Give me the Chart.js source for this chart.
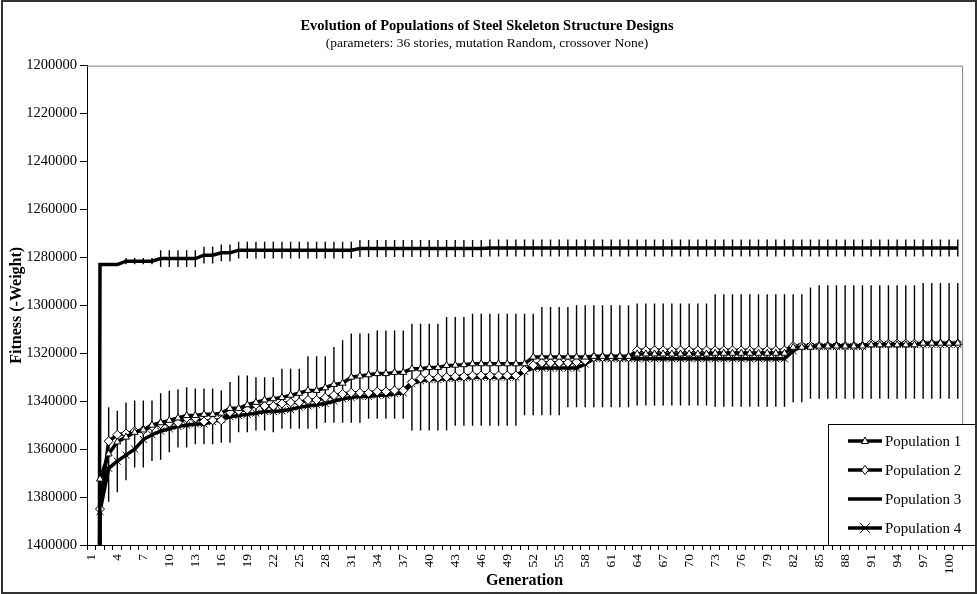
<!DOCTYPE html>
<html>
<head>
<meta charset="utf-8">
<title>Evolution of Populations of Steel Skeleton Structure Designs</title>
<script src="https://cdn.jsdelivr.net/npm/chart.js@4/dist/chart.umd.min.js"></script>
<style>
  html, body { margin: 0; padding: 0; background: #fff; }
  #wrap { width: 978px; height: 594px; }
</style>
</head>
<body>
<div id="wrap"><canvas id="chart" width="978" height="594"></canvas></div>
<script>
// generations on the x axis
const generations = [
    1, 2, 3, 4, 5, 6, 7, 8, 9, 10,
    11, 12, 13, 14, 15, 16, 17, 18, 19, 20,
    21, 22, 23, 24, 25, 26, 27, 28, 29, 30,
    31, 32, 33, 34, 35, 36, 37, 38, 39, 40,
    41, 42, 43, 44, 45, 46, 47, 48, 49, 50,
    51, 52, 53, 54, 55, 56, 57, 58, 59, 60,
    61, 62, 63, 64, 65, 66, 67, 68, 69, 70,
    71, 72, 73, 74, 75, 76, 77, 78, 79, 80,
    81, 82, 83, 84, 85, 86, 87, 88, 89, 90,
    91, 92, 93, 94, 95, 96, 97, 98, 99, 100,
    101
];

// best design weight per generation (shown as fitness = -weight)
const pop1 = [
    2100000, 1372500, 1362000, 1357000, 1355000, 1353000, 1352000, 1350000, 1349000, 1348000,
    1347000, 1346000, 1346000, 1345500, 1345500, 1345000, 1343000, 1343000, 1341500, 1340500,
    1339500, 1339000, 1338500, 1337500, 1336700, 1335500, 1335500, 1334400, 1333000, 1332500,
    1330000, 1329500, 1329000, 1328500, 1328500, 1328000, 1328000, 1326500, 1326500, 1326000,
    1326000, 1325100, 1325000, 1324800, 1324400, 1324400, 1324400, 1324400, 1324400, 1324400,
    1324400, 1321600, 1321600, 1321600, 1321600, 1321600, 1321600, 1321600, 1321300, 1321300,
    1321300, 1321300, 1321300, 1320300, 1320300, 1320300, 1320300, 1320300, 1320300, 1320300,
    1320300, 1320300, 1320000, 1320000, 1320000, 1320000, 1320000, 1320000, 1320000, 1320000,
    1320000, 1317500, 1317500, 1317500, 1317000, 1317000, 1317000, 1317000, 1317000, 1317000,
    1316500, 1316500, 1316500, 1316500, 1316500, 1316500, 1315800, 1315800, 1315800, 1315800,
    1315800
];
const pop2 = [
    2400000, 1385000, 1356700, 1354000, 1353500, 1352500, 1352000, 1350500, 1349500, 1349000,
    1349000, 1347000, 1347000, 1348500, 1348000, 1348000, 1344600, 1344000, 1343500, 1341500,
    1342000, 1342000, 1341000, 1340500, 1340500, 1339500, 1339500, 1338500, 1337500, 1337000,
    1336500, 1336500, 1336500, 1336000, 1336000, 1335500, 1335500, 1332100, 1330500, 1330500,
    1330200, 1330000, 1329700, 1329700, 1329300, 1329300, 1329300, 1329300, 1329300, 1329300,
    1327000, 1325000, 1324000, 1324000, 1324000, 1324000, 1323700, 1323000, 1321600, 1321600,
    1321600, 1321600, 1321600, 1318800, 1318800, 1318800, 1318800, 1318800, 1318800, 1318800,
    1318800, 1318800, 1318800, 1318800, 1318800, 1318800, 1318800, 1318800, 1318800, 1318800,
    1318800, 1317000, 1317000, 1317000, 1317000, 1317000, 1317000, 1317000, 1317000, 1317000,
    1316000, 1316000, 1316000, 1316000, 1316000, 1316000, 1316000, 1316000, 1316000, 1316000,
    1316000
];
const pop3 = [
    3000000, 1283000, 1283000, 1283000, 1281600, 1281600, 1281600, 1281600, 1280500, 1280500,
    1280500, 1280500, 1280500, 1279100, 1279100, 1278100, 1278100, 1277000, 1277000, 1277000,
    1277000, 1277000, 1277000, 1277000, 1277000, 1277000, 1277000, 1277000, 1277000, 1277000,
    1277000, 1276300, 1276300, 1276300, 1276300, 1276300, 1276300, 1276300, 1276300, 1276300,
    1276300, 1276300, 1276300, 1276300, 1276300, 1276300, 1276100, 1276100, 1276100, 1276100,
    1276100, 1276100, 1276100, 1276100, 1276100, 1276100, 1276100, 1276100, 1276100, 1276100,
    1276100, 1276100, 1276100, 1276100, 1276100, 1276100, 1276100, 1276100, 1276100, 1276100,
    1276100, 1276100, 1276100, 1276100, 1276100, 1276100, 1276100, 1276100, 1276100, 1276100,
    1276100, 1276100, 1276100, 1276100, 1276100, 1276100, 1276100, 1276100, 1276100, 1276100,
    1276100, 1276100, 1276100, 1276100, 1276100, 1276100, 1276100, 1276100, 1276100, 1276100,
    1276100
];
const pop4 = [
    2300000, 1386000, 1368000, 1365000, 1362500, 1360000, 1356000, 1354000, 1352500, 1351500,
    1350500, 1350000, 1349500, 1349500, 1348500, 1347500, 1346500, 1346000, 1345500, 1345000,
    1344300, 1344300, 1344000, 1343500, 1342500, 1342000, 1341500, 1341000, 1340000, 1339000,
    1338500, 1338000, 1338000, 1337500, 1337500, 1336900, 1336500, 1332700, 1331500, 1331000,
    1331000, 1330500, 1330500, 1330300, 1330000, 1330000, 1330000, 1330000, 1330000, 1330000,
    1327500, 1326200, 1326200, 1326200, 1326200, 1326200, 1326200, 1324500, 1322300, 1322300,
    1322300, 1322300, 1322300, 1322300, 1322300, 1322300, 1322300, 1322300, 1322300, 1322300,
    1322300, 1322300, 1322300, 1322300, 1322300, 1322300, 1322300, 1322300, 1322300, 1322300,
    1322300, 1319000, 1317200, 1317200, 1317200, 1317200, 1317200, 1317200, 1317200, 1317200,
    1316300, 1316300, 1316300, 1316300, 1316300, 1316300, 1316300, 1316300, 1316300, 1316300,
    1316300
];

// spread bars: population 3 (+/- half width) and the lower populations (best..worst)
const pop3Spread = [
    0, 0, 0, 0, 1300, 1300, 1300, 1300, 3500, 3500,
    3500, 3500, 3500, 3500, 3500, 3500, 3500, 3500, 3500, 3500,
    3500, 3500, 3500, 3500, 3500, 3500, 3500, 3500, 3500, 3500,
    3500, 3500, 3500, 3500, 3500, 3500, 3500, 3500, 3500, 3500,
    3500, 3500, 3500, 3500, 3500, 3500, 3500, 3500, 3500, 3500,
    3500, 3500, 3500, 3500, 3500, 3500, 3500, 3500, 3500, 3500,
    3500, 3500, 3500, 3500, 3500, 3500, 3500, 3500, 3500, 3500,
    3500, 3500, 3500, 3500, 3500, 3500, 3500, 3500, 3500, 3500,
    3500, 3500, 3500, 3500, 3500, 3500, 3500, 3500, 3500, 3500,
    3500, 3500, 3500, 3500, 3500, 3500, 3500, 3500, 3500, 3500,
    3500
];
const spreadBest = [
    null, null, 1342500, 1344000, 1340500, 1339700, 1339700, 1339700, 1336700, 1335700,
    1335000, 1334200, 1334700, 1334700, 1334700, 1335500, 1332000, 1329300, 1329300, 1330000,
    1330000, 1330000, 1326500, 1326500, 1326500, 1321300, 1321300, 1321300, 1317400, 1314600,
    1311800, 1311800, 1311800, 1310500, 1310500, 1310500, 1310500, 1307700, 1307700, 1307700,
    1307700, 1304900, 1304900, 1304900, 1303500, 1303500, 1303500, 1303500, 1303500, 1303500,
    1303500, 1303500, 1300700, 1300700, 1300700, 1300700, 1300000, 1300000, 1300000, 1300000,
    1300000, 1300000, 1300000, 1299300, 1299300, 1299300, 1299300, 1299300, 1299300, 1299300,
    1299300, 1299300, 1295400, 1295400, 1295400, 1295400, 1295400, 1295400, 1295400, 1295400,
    1295400, 1295400, 1295400, 1292600, 1291600, 1291600, 1291600, 1291600, 1291600, 1291600,
    1291600, 1291600, 1291600, 1291600, 1291600, 1291600, 1290700, 1290700, 1290700, 1290700,
    1290700
];
const spreadWorst = [
    null, null, 1382000, 1378000, 1373000, 1367700, 1367700, 1365000, 1364400, 1361300,
    1359300, 1359300, 1358000, 1358000, 1358000, 1357300, 1357300, 1353000, 1353000, 1352200,
    1352200, 1353000, 1351500, 1351500, 1351500, 1351500, 1351500, 1349000, 1349000, 1349000,
    1349000, 1349000, 1347300, 1347300, 1347300, 1347300, 1347300, 1352200, 1352200, 1352200,
    1352200, 1352200, 1350200, 1350200, 1350200, 1350200, 1350200, 1350200, 1350200, 1350200,
    1345900, 1345900, 1345900, 1345900, 1345900, 1342500, 1342500, 1342500, 1342500, 1342500,
    1342500, 1342500, 1342500, 1341800, 1341800, 1341800, 1341800, 1341800, 1341800, 1341800,
    1341800, 1341800, 1342300, 1342300, 1342300, 1342300, 1342300, 1342300, 1342300, 1342300,
    1342300, 1340400, 1340400, 1339000, 1339000, 1339000, 1339000, 1339000, 1339000, 1339000,
    1339000, 1339000, 1339000, 1339000, 1339000, 1339000, 1339000, 1339000, 1339000, 1339000,
    1339000
];

const serif = '"Liberation Serif", "Times New Roman", serif';

// vertical spread lines behind the series
const spreadLines = {
    id: 'spreadLines',
    beforeDatasetsDraw(chart) {
        const { ctx, chartArea: a, scales: { x, y } } = chart;
        ctx.save();
        ctx.beginPath();
        ctx.rect(a.left, a.top, a.width, a.height);
        ctx.clip();
        ctx.strokeStyle = '#000';
        ctx.lineWidth = 1.4;
        ctx.beginPath();
        generations.forEach((g, i) => {
            const px = x.getPixelForValue(i);
            if (spreadBest[i] !== null) {
                ctx.moveTo(px, y.getPixelForValue(spreadBest[i]));
                ctx.lineTo(px, y.getPixelForValue(spreadWorst[i]));
            }
            if (pop3Spread[i] > 0) {
                ctx.moveTo(px, y.getPixelForValue(pop3[i] - pop3Spread[i]));
                ctx.lineTo(px, y.getPixelForValue(pop3[i] + pop3Spread[i]));
            }
        });
        ctx.stroke();
        ctx.restore();
    }
};

function marker(ctx, style, x, y) {
    ctx.beginPath();
    if (style === 'triangle') {
        ctx.moveTo(x, y - 4);
        ctx.lineTo(x + 3.5, y + 2.5);
        ctx.lineTo(x - 3.5, y + 2.5);
        ctx.closePath();
        ctx.fill(); ctx.stroke();
    } else if (style === 'rectRot') {
        ctx.moveTo(x, y - 4.5);
        ctx.lineTo(x + 3.5, y);
        ctx.lineTo(x, y + 4.5);
        ctx.lineTo(x - 3.5, y);
        ctx.closePath();
        ctx.fill(); ctx.stroke();
    } else if (style === 'crossRot') {
        ctx.moveTo(x - 5, y - 5); ctx.lineTo(x + 5, y + 5);
        ctx.moveTo(x + 5, y - 5); ctx.lineTo(x - 5, y + 5);
        ctx.stroke();
    }
}

// frame, plot border and the boxed legend
const frame = {
    id: 'frame',
    afterDraw(chart) {
        const { ctx, chartArea: a } = chart;
        ctx.save();
        ctx.strokeStyle = '#808080';
        ctx.lineWidth = 1;
        ctx.beginPath();
        ctx.moveTo(a.left, a.top + 0.5);
        ctx.lineTo(a.right + 0.5, a.top + 0.5);
        ctx.lineTo(a.right + 0.5, a.bottom);
        ctx.stroke();

        // legend
        const lx = 828, ly = 424, lw = 148, lh = a.bottom - 424;
        ctx.fillStyle = '#fff';
        ctx.fillRect(lx, ly, lw, lh);
        ctx.strokeStyle = '#000';
        ctx.strokeRect(lx + 0.5, ly + 0.5, lw, lh);
        ctx.font = '15px ' + serif;
        ctx.textBaseline = 'middle';
        chart.data.datasets.forEach((ds, i) => {
            const ry = 441 + i * 29;
            ctx.strokeStyle = '#000';
            ctx.lineWidth = 3.5;
            ctx.beginPath();
            ctx.moveTo(848, ry);
            ctx.lineTo(882, ry);
            ctx.stroke();
            ctx.lineWidth = 1;
            ctx.fillStyle = '#fff';
            marker(ctx, ds.pointStyle, 865, ry);
            ctx.fillStyle = '#000';
            ctx.fillText(ds.label, 885, ry + 1);
        });

        // outer chart border
        ctx.strokeStyle = '#333';
        ctx.lineWidth = 2;
        ctx.strokeRect(2, 1, 974, 592);
        ctx.restore();
    }
};

function series(label, data, style, radius) {
    return {
        label: label,
        data: data,
        borderColor: '#000',
        borderWidth: 3.5,
        pointStyle: style,
        pointRadius: radius,
        pointBorderWidth: 1,
        pointBorderColor: '#000',
        pointBackgroundColor: '#fff',
        tension: 0
    };
}

new Chart(document.getElementById('chart').getContext('2d'), {
    type: 'line',
    data: {
        labels: generations,
        datasets: [
            series('Population 1', pop1, 'triangle', 4),
            series('Population 2', pop2, 'rectRot', 4.5),
            series('Population 3', pop3, false, 0),
            series('Population 4', pop4, 'crossRot', 5)
        ]
    },
    options: {
        responsive: false,
        animation: false,
        devicePixelRatio: 1,
        layout: { padding: { top: 0, right: 4, bottom: 0, left: 0 } },
        plugins: {
            legend: { display: false },
            tooltip: { enabled: false },
            title: {
                display: true,
                text: 'Evolution of Populations of Steel Skeleton Structure Designs',
                color: '#000',
                font: { family: serif, size: 14.5, weight: 'bold' },
                padding: { top: 18, bottom: 0 }
            },
            subtitle: {
                display: true,
                text: '(parameters: 36 stories, mutation Random, crossover None)',
                color: '#000',
                font: { family: serif, size: 13.5 },
                padding: { top: 0, bottom: 14 }
            }
        },
        scales: {
            x: {
                type: 'category',
                offset: true,
                grid: { display: true, drawOnChartArea: false, drawTicks: true, tickLength: 5, offset: true, color: '#000' },
                border: { display: true, color: '#000', width: 1 },
                ticks: {
                    autoSkip: false,
                    maxRotation: 90,
                    minRotation: 90,
                    padding: 4,
                    color: '#000',
                    font: { family: serif, size: 13.5 },
                    callback: (v, i) => (i % 3 === 0 ? String(generations[i]) : '')
                },
                title: {
                    display: true,
                    text: 'Generation',
                    color: '#000',
                    font: { family: serif, size: 16, weight: 'bold' },
                    padding: { top: 0, bottom: 4 }
                },
                afterFit: (s) => { s.height = 49; }
            },
            y: {
                reverse: true,
                min: 1200000,
                max: 1400000,
                grid: { display: true, drawOnChartArea: false, drawTicks: true, tickLength: 7, color: '#000' },
                border: { display: true, color: '#000', width: 1 },
                ticks: {
                    stepSize: 20000,
                    padding: 3,
                    color: '#000',
                    font: { family: serif, size: 14.5 },
                    callback: (v) => String(v)
                },
                title: {
                    display: true,
                    text: 'Fitness (-Weight)',
                    color: '#000',
                    font: { family: serif, size: 16, weight: 'bold' },
                    padding: { top: 7, bottom: 0 }
                },
                afterFit: (s) => { s.width = 87; }
            }
        }
    },
    plugins: [spreadLines, frame]
});
</script>
</body>
</html>
